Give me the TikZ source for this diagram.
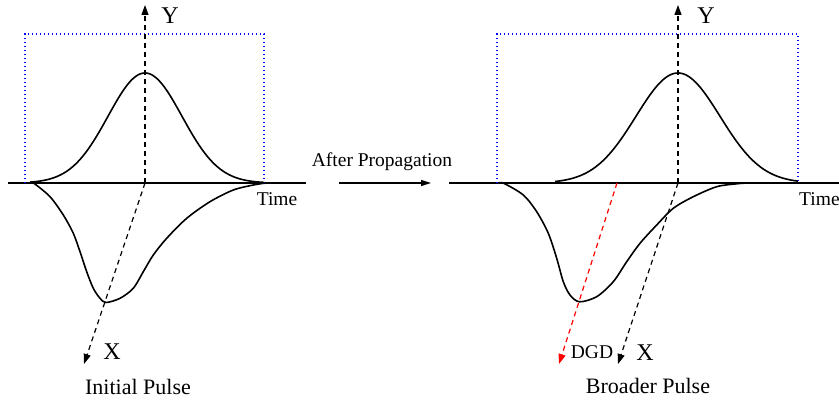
\documentclass[tikz,border=0pt]{standalone}
\usepackage{fontspec}
\setmainfont{Liberation Serif}
\usetikzlibrary{arrows.meta}
\begin{document}
\begin{tikzpicture}[x=1pt,y=-1pt,
  axisline/.style={line width=1.3pt},
  pulse/.style={line width=1.6pt, line join=round},
  frame/.style={blue, line width=1.3pt, dash pattern=on 1.3pt off 2.7pt},
  dashaxis/.style={line width=1.2pt, dash pattern=on 5pt off 4pt, -{Triangle[length=10pt,width=7pt]}},
  lbl/.style={font=\fontsize{19.5}{22}\selectfont, inner sep=0pt},
  axlbl/.style={font=\fontsize{24}{28}\selectfont, inner sep=0pt},
  caption/.style={font=\fontsize{22}{26}\selectfont, inner sep=0pt}]
\useasboundingbox (0,0) rectangle (839,401);

% ---------- left panel: initial pulse ----------
\coordinate (LtA) at (8,183);
\coordinate (LtB) at (306,183);
\coordinate (LO)  at (145,183);
\coordinate (LY)  at (145,5);
\coordinate (LX)  at (84,364);
\draw[axisline] (LtA) -- (LtB);
\draw[frame] (25,183) -- (25,34) -- (264,34) -- (264,183);
\draw[pulse] plot[domain=30:264, samples=120] (\x, {183-110*exp(-((\x-145)^2)/(2*37^2))});
\draw[pulse] plot[smooth, tension=0.5] coordinates {
  (30,183) (34,183.4) (50,196.7) (63.3,215) (73.3,233.3) (80,251.7) (86.7,271.7)
  (93.3,288.3) (100,298.3) (106,302.5)
  (120,298.3) (133.3,288.3) (143.3,271.7) (153.3,255) (166.7,238.3)
  (186.7,218.3) (210,201.7) (233.3,190) (253.3,185) (266,183)};
\draw[dashaxis] (LO) -- (LY);
\draw[dashaxis] (LO) -- (LX);
\node[axlbl] (lyl) at (170,16) {Y};
\node[axlbl] (lxl) at (112,352) {X};
\node[lbl] (ltime) at (277,199) {Time};
\node[caption] (lcap) at (138,387) {Initial Pulse};

% ---------- propagation arrow ----------
\coordinate (PA) at (339,183);
\coordinate (PB) at (431,183);
\draw[axisline, -{Triangle[length=10pt,width=6pt]}] (PA) -- (PB);
\node[lbl] (prop) at (382,162) {After Propagation};

% ---------- right panel: broadened pulse ----------
\coordinate (RtA) at (449,183);
\coordinate (RtB) at (845,183);
\coordinate (RO)  at (678,183);
\coordinate (RY)  at (678,5);
\coordinate (RX)  at (618,364);
\coordinate (RD0) at (617,183);
\coordinate (RD)  at (559,364);
\draw[axisline] (RtA) -- (RtB);
\draw[frame] (497,183) -- (497,34) -- (798,34) -- (798,183);
\draw[pulse] plot[domain=555:798, samples=120] (\x, {183-110*exp(-((\x-678)^2)/(2*42^2))});
\draw[pulse] plot[smooth, tension=0.5] coordinates {
  (499,183) (504,183.4) (523.3,195) (536.7,211.7) (548.3,233.3) (556.7,258.3)
  (563.3,281.7) (570,295) (579.5,301.8)
  (596.7,296.7) (613.3,281.7) (626.7,261.7) (640,243.3) (656.7,225)
  (673.3,208.3) (693.3,196.7) (716.7,186.7) (736.7,183.8) (747,183)};
\draw[dashaxis] (RO) -- (RY);
\draw[dashaxis] (RO) -- (RX);
\draw[dashaxis, red] (RD0) -- (RD);
\node[axlbl] (ryl) at (706,16) {Y};
\node[axlbl] (rxl) at (645,353) {X};
\node[lbl] (dgd) at (592,352) {DGD};
\node[lbl, anchor=west] (rtime) at (799,199) {Time};
\node[caption] (rcap) at (648,386) {Broader Pulse};
\end{tikzpicture}
\end{document}
